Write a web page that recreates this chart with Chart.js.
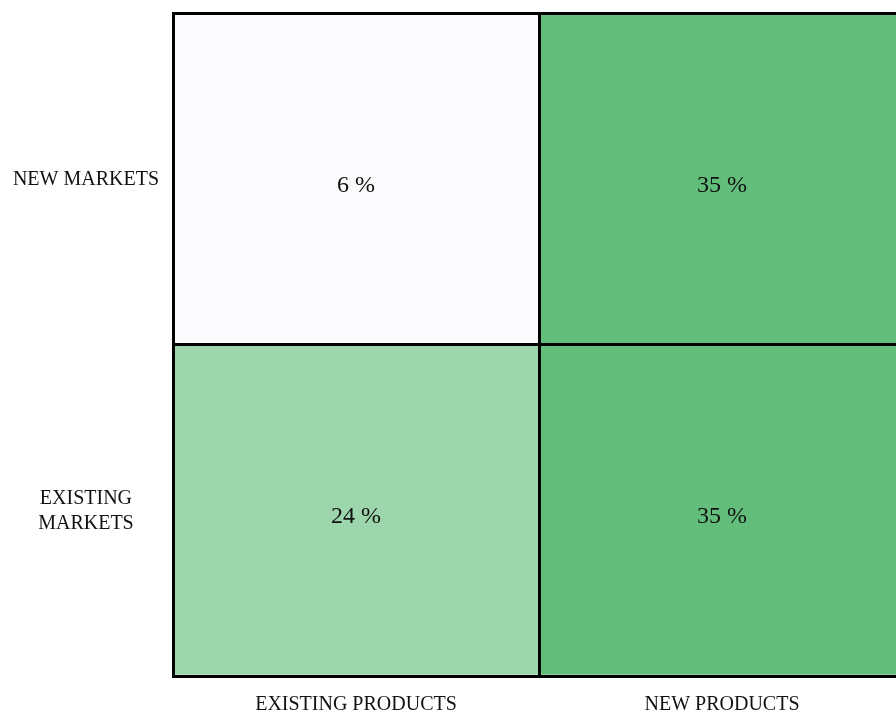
<!DOCTYPE html>
<html>
<head>
<meta charset="utf-8">
<script src="https://cdn.jsdelivr.net/npm/chart.js@4.4.1/dist/chart.umd.min.js"></script>
<style>
    html, body { margin: 0; padding: 0; background: #ffffff; overflow: hidden; }
    #wrap { position: relative; width: 906px; height: 716px; }
</style>
</head>
<body>
<div id="wrap"><canvas id="matrixChart"></canvas></div>
<script>
// Matriz produto x mercado (percentual por quadrante)
const productLabels = ['EXISTING PRODUCTS', 'NEW PRODUCTS'];
const marketLabels = [['EXISTING', 'MARKETS'], 'NEW MARKETS'];
const existingMarkets = [24, 35];
const newMarkets = [6, 35];

// Escala de cor: valor mínimo -> quase branco, máximo -> verde
const lowColor = [252, 252, 255];
const highColor = [99, 190, 123];
const allValues = existingMarkets.concat(newMarkets);
const vMin = Math.min.apply(null, allValues);
const vMax = Math.max.apply(null, allValues);

function cellColor(v) {
    const t = (v - vMin) / (vMax - vMin);
    const c = lowColor.map((lo, i) => Math.round(lo + (highColor[i] - lo) * t));
    return 'rgb(' + c.join(',') + ')';
}

// Cada linha da matriz é um dataset de barras flutuantes (faixa 0-1 ou 1-2)
const rows = [
    { label: 'EXISTING MARKETS', values: existingMarkets, range: [0, 1] },
    { label: 'NEW MARKETS', values: newMarkets, range: [1, 2] }
];

const fontFamily = "'Liberation Serif', 'Times New Roman', serif";

// Plugin simples para escrever o valor no centro de cada célula
const cellText = {
    id: 'cellText',
    afterDraw(chart) {
        const ctx = chart.ctx;
        ctx.save();
        ctx.font = '24px ' + fontFamily;
        ctx.fillStyle = '#111';
        ctx.textAlign = 'center';
        ctx.textBaseline = 'middle';
        chart.data.datasets.forEach((ds, di) => {
            const meta = chart.getDatasetMeta(di);
            meta.data.forEach((bar, i) => {
                const cy = (bar.y + bar.base) / 2;
                ctx.fillText(rows[di].values[i] + ' %', bar.x, cy + 7);
            });
        });
        ctx.restore();
    }
};

new Chart(document.getElementById('matrixChart').getContext('2d'), {
    type: 'bar',
    data: {
        labels: productLabels,
        datasets: rows.map(r => ({
            label: r.label,
            data: r.values.map(() => r.range),
            backgroundColor: r.values.map(cellColor),
            borderWidth: 0,
            barPercentage: 1,
            categoryPercentage: 1,
            grouped: false
        }))
    },
    options: {
        responsive: true,
        maintainAspectRatio: false,
        animation: false,
        layout: { padding: { top: 13, right: 1, bottom: 0, left: 0 } },
        plugins: {
            legend: { display: false },
            tooltip: { enabled: false }
        },
        scales: {
            x: {
                offset: true,
                grid: { z: 1, offset: true, color: '#000', lineWidth: 3, drawTicks: false },
                border: { z: 1, color: '#000', width: 3 },
                ticks: {
                    color: '#111',
                    padding: 17,
                    maxRotation: 0,
                    font: { family: fontFamily, size: 20 }
                },
                afterFit: function(scale) {
                    scale.height = 40;
                    scale.paddingLeft = 0;
                    scale.paddingRight = 0;
                }
            },
            y: {
                min: 0,
                max: 2,
                afterBuildTicks: function(scale) {
                    scale.ticks = [0, 0.5, 1, 1.5, 2].map(v => ({ value: v }));
                },
                grid: {
                    z: 1,
                    drawTicks: false,
                    lineWidth: 3,
                    color: ctx => (ctx.tick && ctx.tick.value % 1 === 0) ? '#000' : 'rgba(0,0,0,0)'
                },
                border: { z: 1, color: '#000', width: 3 },
                ticks: {
                    color: '#111',
                    padding: 14,
                    labelOffset: 1,
                    crossAlign: 'center',
                    font: { family: fontFamily, size: 20, lineHeight: 1.25 },
                    callback: function(value) {
                        if (value === 0.5) return marketLabels[0];
                        if (value === 1.5) return marketLabels[1];
                        return '';
                    }
                },
                afterFit: function(scale) {
                    scale.width = 173;
                    scale.paddingTop = 0;
                    scale.paddingBottom = 0;
                }
            }
        }
    },
    plugins: [cellText]
});
</script>
</body>
</html>
